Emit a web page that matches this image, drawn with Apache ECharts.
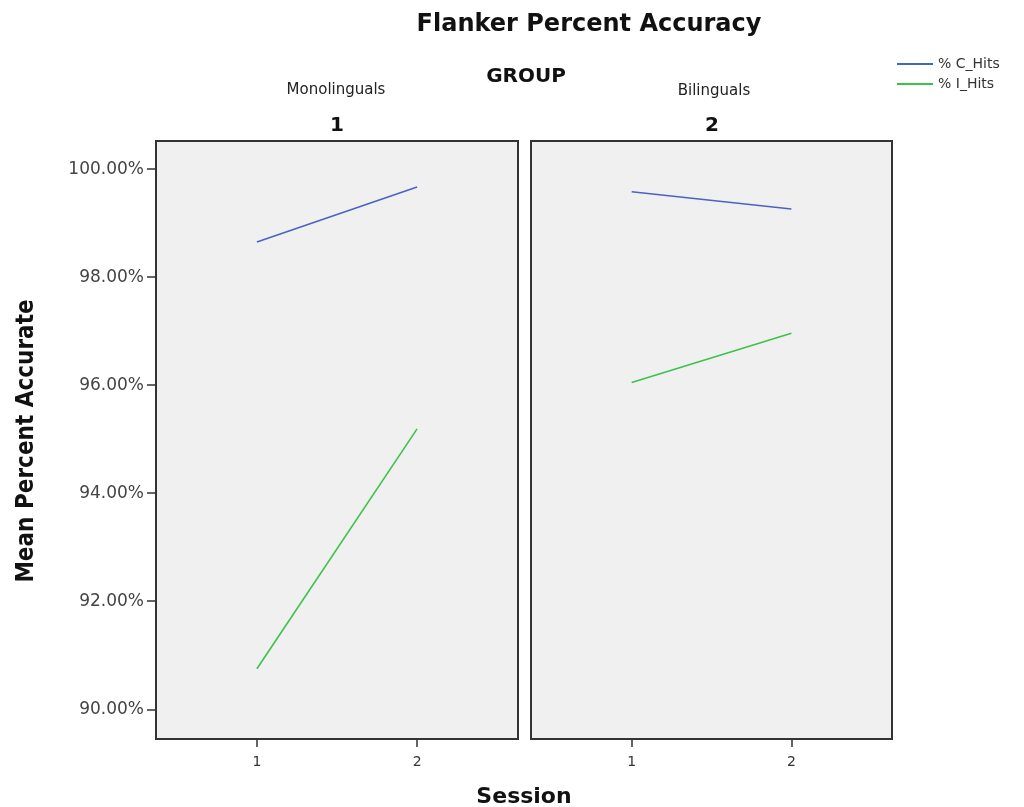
<!DOCTYPE html>
<html>
<head>
<meta charset="utf-8">
<script src="https://cdn.jsdelivr.net/npm/echarts@6/dist/echarts.min.js"></script>
<style>
  html, body { margin: 0; padding: 0; background: #fff; }
  #chart { width: 1024px; height: 807px; }
</style>
</head>
<body>
<div id="chart"></div>
<script>
// data
var sessions = [1, 2];
var groupNames = ["Monolinguals", "Bilinguals"];
var groupCodes = ["1", "2"];
var yTicks = [90, 92, 94, 96, 98, 100];
var monoC = [98.65, 99.67];
var monoI = [90.75, 95.19];
var biC = [99.58, 99.26];
var biI = [96.05, 96.96];

var blue = "#4a62c4";
var green = "#3cc24a";
var font = "DejaVu Sans";

function pairs(vals) {
  return sessions.map(function (s, i) { return [s, vals[i]]; });
}

function xAxisFor(idx) {
  return {
    type: "value",
    gridIndex: idx,
    min: 0.37,
    max: 2.63,
    axisLine: { show: true, lineStyle: { color: "#333", width: 2 } },
    axisTick: { show: true, customValues: sessions, length: 8, lineStyle: { color: "#333", width: 1.5 } },
    axisLabel: { customValues: sessions, color: "#333", fontFamily: font, fontSize: 14, margin: 16 },
    splitLine: { show: false }
  };
}

function yAxisFor(idx) {
  return {
    type: "value",
    gridIndex: idx,
    min: 89.45,
    max: 100.52,
    axisLine: { show: idx === 0, lineStyle: { color: "#333", width: 2 } },
    axisTick: { show: idx === 0, customValues: yTicks, length: 9, lineStyle: { color: "#333", width: 1.5 } },
    axisLabel: {
      show: idx === 0,
      customValues: yTicks,
      color: "#444",
      fontFamily: font,
      fontSize: 17,
      margin: 12,
      formatter: function (v) { return v.toFixed(2) + "%"; }
    },
    splitLine: { show: false }
  };
}

function lineSeries(name, color, idx, vals) {
  return {
    name: name,
    type: "line",
    xAxisIndex: idx,
    yAxisIndex: idx,
    data: pairs(vals),
    symbol: "none",
    lineStyle: { color: color, width: 1.6 },
    itemStyle: { color: color },
    silent: true
  };
}

function label(text, x, y, size, bold) {
  return {
    text: text, left: x, top: y, textAlign: "center", padding: 0,
    textStyle: { fontFamily: font, fontWeight: bold ? "bold" : "normal", fontSize: size, color: bold ? "#111" : "#222" }
  };
}

var chart = echarts.init(document.getElementById("chart"));
chart.setOption({
  animation: false,
  backgroundColor: "#fff",
  title: [
    label("Flanker Percent Accuracy", 589, 13, 24, true),
    label("GROUP", 526, 67, 20, true),
    label(groupNames[0], 336, 83, 15, false),
    label(groupCodes[0], 337, 116, 20, true),
    label(groupNames[1], 714, 84, 15, false),
    label(groupCodes[1], 712, 116, 20, true),
    label("Session", 524, 786, 22, true)
  ],
  graphic: [
    { type: "text", x: 27, y: 441, rotation: Math.PI / 2,
      style: { text: "Mean Percent Accurate", fontFamily: "DejaVu Sans Condensed", fontWeight: "bold",
        fontSize: 24, fill: "#111", align: "center", verticalAlign: "middle" } }
  ],
  legend: {
    left: 896,
    top: 57,
    orient: "vertical",
    itemWidth: 36,
    itemHeight: 2,
    itemGap: 6,
    padding: 0,
    textStyle: { fontFamily: font, fontSize: 14, color: "#333" },
    data: ["% C_Hits", "% I_Hits"]
  },
  grid: [
    { left: 156, top: 141, width: 362, height: 598, show: true, backgroundColor: "#f0f0f0",
      borderColor: "#333", borderWidth: 2 },
    { left: 531, top: 141, width: 361, height: 598, show: true, backgroundColor: "#f0f0f0",
      borderColor: "#333", borderWidth: 2 }
  ],
  xAxis: [xAxisFor(0), xAxisFor(1)],
  yAxis: [yAxisFor(0), yAxisFor(1)],
  series: [
    lineSeries("% C_Hits", blue, 0, monoC),
    lineSeries("% I_Hits", green, 0, monoI),
    lineSeries("% C_Hits", blue, 1, biC),
    lineSeries("% I_Hits", green, 1, biI)
  ]
});
</script>
</body>
</html>
